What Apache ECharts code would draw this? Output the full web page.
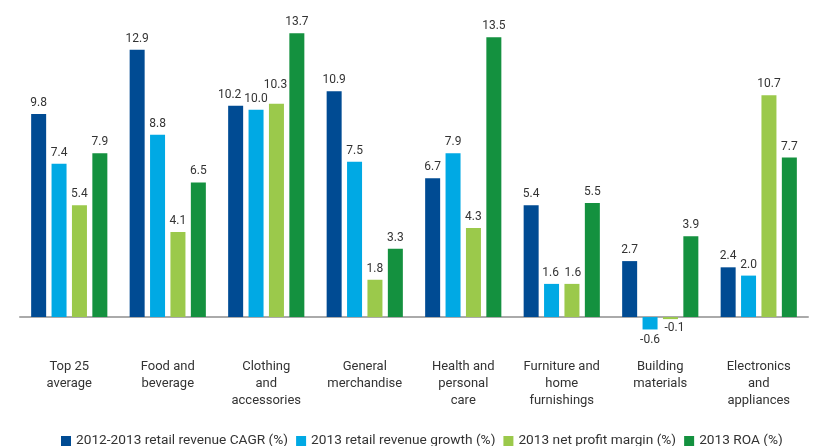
<!DOCTYPE html>
<html>
<head>
<meta charset="utf-8">
<script src="https://cdn.jsdelivr.net/npm/echarts@6/dist/echarts.min.js"></script>
<style>
  html, body { margin: 0; padding: 0; background: #fff; }
  #chart { width: 818px; height: 446px; }
</style>
</head>
<body>
<div id="chart"></div>
<script>
var categories = ["Top 25\naverage", "Food and\nbeverage", "Clothing\nand\naccessories", "General\nmerchandise",
    "Health and\npersonal\ncare", "Furniture and\nhome\nfurnishings", "Building\nmaterials", "Electronics\nand\nappliances"];
var seriesNames = ["2012-2013 retail revenue CAGR (%)", "2013 retail revenue growth (%)", "2013 net profit margin (%)", "2013 ROA (%)"];
var revenueCagr = [9.8, 12.9, 10.2, 10.9, 6.7, 5.4, 2.7, 2.4];
var revenueGrowth = [7.4, 8.8, 10.0, 7.5, 7.9, 1.6, -0.6, 2.0];
var profitMargin = [5.4, 4.1, 10.3, 1.8, 4.3, 1.6, -0.1, 10.7];
var roa = [7.9, 6.5, 13.7, 3.3, 13.5, 5.5, 3.9, 7.7];
var colors = ["#004b93", "#00a9e4", "#9bc94b", "#14913f"];

var font = "Roboto, 'Noto Sans', sans-serif";

// nudges for crowded value labels: "series,category" -> [dx, dy]
var labelNudge = {
    "0,2": [-6, 0],
    "2,2": [-1, -8],
    "2,6": [4, -2],
    "1,5": [-1, 0],
    "2,5": [1, 0]
};

function makeSeries(idx, values) {
    return {
        name: seriesNames[idx],
        type: "bar",
        barWidth: 15,
        barGap: "36%",
        itemStyle: { color: colors[idx] },
        data: values.map(function (v, i) {
            return {
                value: v,
                label: {
                    position: v < 0 ? "bottom" : "top",
                    offset: labelNudge[idx + "," + i] || [0, 0]
                }
            };
        }),
        label: {
            show: true,
            distance: 5,
            color: "#333",
            fontSize: 12,
            fontFamily: font,
            formatter: function (p) { return p.value.toFixed(1); }
        }
    };
}

var chart = echarts.init(document.getElementById("chart"));
chart.setOption({
    animation: false,
    backgroundColor: "#fff",
    color: colors,
    legend: {
        top: 429,
        left: 56,
        itemWidth: 10,
        itemHeight: 10,
        itemGap: 8,
        icon: "rect",
        textStyle: { color: "#333", fontSize: 13.7, fontFamily: font },
        data: seriesNames
    },
    grid: { left: 20, right: 10, top: 27, bottom: 89.6 },
    xAxis: {
        type: "category",
        data: categories,
        axisLine: { onZero: true, lineStyle: { color: "#aaa", width: 2 } },
        axisTick: { show: false },
        axisLabel: {
            margin: 2,
            color: "#333",
            fontSize: 13,
            lineHeight: 17,
            fontFamily: font,
            interval: 0
        }
    },
    yAxis: {
        type: "value",
        min: -1.9,
        max: 14,
        show: false,
        splitLine: { show: false }
    },
    series: [
        makeSeries(0, revenueCagr),
        makeSeries(1, revenueGrowth),
        makeSeries(2, profitMargin),
        makeSeries(3, roa)
    ]
});
</script>
</body>
</html>
